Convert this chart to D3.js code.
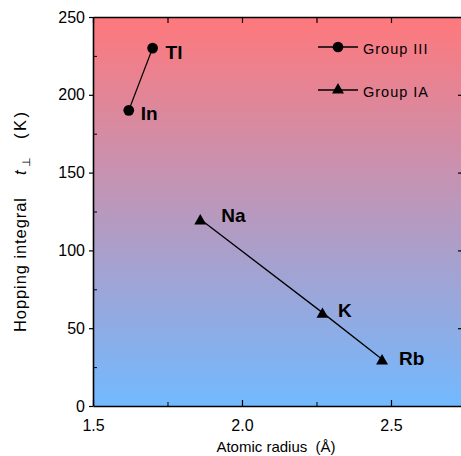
<!DOCTYPE html>
<html>
<head>
<meta charset="utf-8">
<script src="https://cdn.jsdelivr.net/npm/d3@7"></script>
<style>
  body { margin: 0; background: #fff; }
  svg { display: block; font-family: "Liberation Sans", Arial, sans-serif; }
  .tick text { font-size: 16px; fill: #000; }
  .pt-label { font-size: 19px; font-weight: bold; }
  .leg-label { font-size: 14.5px; letter-spacing: 1px; }
  .axis-title { font-size: 15px; white-space: pre; }
</style>
</head>
<body>
<div id="chart"></div>
<script>
// --- Data ---
const groupIIIRadius = [1.62, 1.70];
const groupIIIHop = [190, 230];
const groupIIILabels = ['In', 'Tl'];

const groupIARadius = [1.86, 2.27, 2.47];
const groupIAHop = [120, 60, 30];
const groupIALabels = ['Na', 'K', 'Rb'];

const xTicks = [1.5, 2.0, 2.5];
const yTicks = [0, 50, 100, 150, 200, 250];

const W = 461, H = 456;
const margin = { top: 17, right: 0, bottom: 50, left: 93 };

const svg = d3.select('#chart').append('svg')
    .attr('width', W)
    .attr('height', H);

const x = d3.scaleLinear().domain([1.5, 2.74]).range([margin.left, 462.5]);
const y = d3.scaleLinear().domain([0, 250]).range([H - margin.bottom, margin.top]);

// --- Background gradient ---
const defs = svg.append('defs');
const grad = defs.append('linearGradient')
    .attr('id', 'bg')
    .attr('x1', 0).attr('y1', 0).attr('x2', 0).attr('y2', 1);
grad.append('stop').attr('offset', '0%').attr('stop-color', '#ff787c');
grad.append('stop').attr('offset', '100%').attr('stop-color', '#72b9ff');

svg.append('rect')
    .attr('x', x(1.5)).attr('y', y(250))
    .attr('width', x.range()[1] - x(1.5))
    .attr('height', y(0) - y(250))
    .attr('fill', 'url(#bg)');

// --- Axes ---
const fmtX = d3.format('.1f');
const minorX = [1.75, 2.25];
const minorY = [25, 75, 125, 175, 225];

svg.append('g')
    .attr('transform', `translate(0,${y(0)})`)
    .call(d3.axisBottom(x).tickValues(xTicks).tickFormat(fmtX).tickSizeInner(-6).tickSizeOuter(0).tickPadding(14))
    .call(g => g.select('.domain').attr('stroke-width', 1.6))
    .call(g => g.selectAll('.tick line').attr('stroke-width', 1.2));

svg.append('g')
    .attr('transform', `translate(0,${y(0)})`)
    .call(d3.axisBottom(x).tickValues(minorX).tickFormat('').tickSizeInner(-4).tickSizeOuter(0))
    .call(g => g.select('.domain').remove());

svg.append('g')
    .attr('transform', `translate(0,${y(250)})`)
    .call(d3.axisTop(x).tickValues(xTicks.concat(minorX)).tickFormat('').tickSizeInner(-6).tickSizeOuter(0))
    .call(g => g.select('.domain').attr('stroke-width', 1.6))
    .call(g => g.selectAll('.tick line').attr('stroke-width', 1.2));

svg.append('g')
    .attr('transform', `translate(${x(1.5)},0)`)
    .call(d3.axisLeft(y).tickValues(yTicks).tickSizeInner(4).tickSizeOuter(0).tickPadding(4))
    .call(g => g.select('.domain').attr('stroke-width', 1.6))
    .call(g => g.selectAll('.tick line').attr('stroke-width', 1.2));

svg.append('g')
    .attr('transform', `translate(${x(1.5)},0)`)
    .call(d3.axisLeft(y).tickValues(minorY).tickFormat('').tickSizeInner(-4).tickSizeOuter(0))
    .call(g => g.select('.domain').remove());

svg.append('g')
    .attr('transform', `translate(${W},0)`)
    .call(d3.axisLeft(y).tickValues([50, 100, 150, 200]).tickFormat('').tickSizeInner(3).tickSizeOuter(0))
    .call(g => g.select('.domain').remove())
    .call(g => g.selectAll('.tick line').attr('stroke-width', 1.2));

// --- Axis titles ---
svg.append('text')
    .attr('class', 'axis-title')
    .attr('x', 276).attr('y', 452)
    .attr('text-anchor', 'middle')
    .text('Atomic radius  (Å)');

// y title pieces placed along the rotated baseline
const yt = svg.append('text')
    .attr('class', 'axis-title')
    .attr('transform', 'translate(26,332) rotate(-90)')
    .attr('text-anchor', 'start');
yt.append('tspan').attr('x', 0).attr('font-size', '16.5px')
    .attr('textLength', 134).attr('lengthAdjust', 'spacing').text('Hopping integral');
yt.append('tspan').attr('x', 157).attr('font-size', '16.5px').attr('font-style', 'italic').text('t');
yt.append('tspan').attr('x', 165).attr('font-size', '11px').attr('dy', 4).text('⊥');
yt.append('tspan').attr('x', 193).attr('dy', -4).attr('font-size', '16.5px')
    .attr('textLength', 27).attr('lengthAdjust', 'spacing').text('(K)');

// --- Series ---
const line = d3.line().x(d => x(d[0])).y(d => y(d[1]));
const g3 = d3.zip(groupIIIRadius, groupIIIHop);
const gA = d3.zip(groupIARadius, groupIAHop);

svg.append('path').attr('d', line(g3)).attr('fill', 'none').attr('stroke', '#000').attr('stroke-width', 1.3);
svg.append('path').attr('d', line(gA)).attr('fill', 'none').attr('stroke', '#000').attr('stroke-width', 1.3);

const circ = d3.symbol().type(d3.symbolCircle).size(90);
const tri = d3.symbol().type(d3.symbolTriangle).size(62);

svg.selectAll('.m3').data(g3).enter().append('path')
    .attr('d', circ)
    .attr('transform', d => `translate(${x(d[0])},${y(d[1])})`);

svg.selectAll('.mA').data(gA).enter().append('path')
    .attr('d', tri)
    .attr('transform', d => `translate(${x(d[0])},${y(d[1]) + 1.7})`);

// --- Point labels ---
const off3 = [[12, 10], [13, 10.5]];
const offA = [[21, 2.5], [15.5, 4.5], [17, 6]];

svg.selectAll('.l3').data(g3).enter().append('text')
    .attr('class', 'pt-label')
    .attr('x', (d, i) => x(d[0]) + off3[i][0])
    .attr('y', (d, i) => y(d[1]) + off3[i][1])
    .text((d, i) => groupIIILabels[i]);

svg.selectAll('.lA').data(gA).enter().append('text')
    .attr('class', 'pt-label')
    .attr('x', (d, i) => x(d[0]) + offA[i][0])
    .attr('y', (d, i) => y(d[1]) + offA[i][1])
    .text((d, i) => groupIALabels[i]);

// --- Legend ---
const legend = [
    { label: 'Group III', sym: circ, y: 47 },
    { label: 'Group IA', sym: tri, y: 90 }
];
legend.forEach(l => {
    svg.append('line').attr('x1', 318).attr('x2', 358).attr('y1', l.y).attr('y2', l.y)
        .attr('stroke', '#000').attr('stroke-width', 1.3);
    svg.append('path').attr('d', l.sym).attr('transform', `translate(338,${l.y})`);
    svg.append('text').attr('class', 'leg-label')
        .attr('x', 363).attr('y', l.y + 6.7).text(l.label);
});
</script>
</body>
</html>
